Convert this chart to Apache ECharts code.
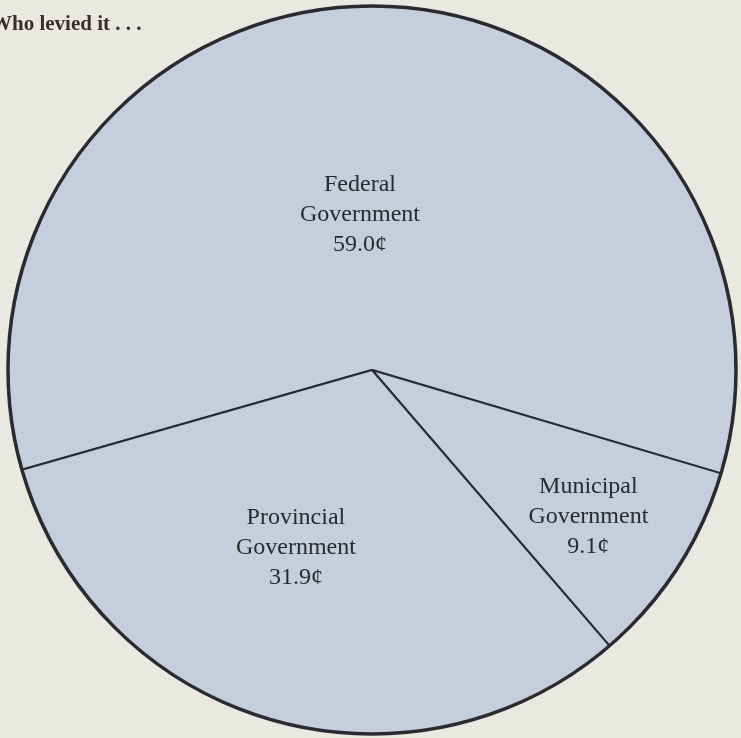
<!DOCTYPE html>
<html>
<head>
<meta charset="utf-8">
<script src="https://cdn.jsdelivr.net/npm/echarts@6/dist/echarts.min.js"></script>
<style>
  html, body { margin: 0; padding: 0; background: #e9e8e1; }
  #chart { width: 741px; height: 738px; }
</style>
</head>
<body>
<div id="chart"></div>
<script>
  // who levied the tax dollar (cents)
  var names = ['Federal\nGovernment', 'Municipal\nGovernment', 'Provincial\nGovernment'];
  var cents = [59.0, 9.1, 31.9];

  var lineColor = '#2b2a31';
  var fillColor = '#c4cedd';
  // nudge labels off the default mid-radius spot
  var labelNudge = [[-13, 30], [61, 46], [-23, 0]];

  var myChart = echarts.init(document.getElementById('chart'));
  var pieData = names.map(function (n, i) {
    return { name: n, value: cents[i] };
  });

  var option = {
    backgroundColor: '#e9e8e1',
    title: {
      text: 'Who levied it . . .',
      left: -14,
      top: 9,
      textStyle: {
        fontFamily: 'Liberation Serif',
        fontWeight: 'bold',
        fontSize: 21,
        color: '#35302f'
      }
    },
    series: [
      {
        type: 'pie',
        center: [372, 370],
        radius: [0, 364],
        startAngle: 195.9,
        clockwise: true,
        silent: true,
        itemStyle: {
          color: fillColor,
          borderColor: lineColor,
          borderWidth: 2
        },
        label: {
          show: true,
          position: 'inside',
          formatter: function (p) {
            return p.name + '\n' + p.value.toFixed(1) + '¢';
          },
          fontFamily: 'Liberation Serif',
          fontSize: 24,
          lineHeight: 30,
          color: '#2a2a2c',
          align: 'center'
        },
        labelLine: { show: false },
        labelLayout: function (p) {
          var d = labelNudge[p.dataIndex];
          return { dx: d[0], dy: d[1] };
        },
        data: pieData
      },
      {
        // heavier outer rim
        type: 'pie',
        center: [372, 370],
        radius: [0, 364],
        silent: true,
        itemStyle: {
          color: 'none',
          borderColor: lineColor,
          borderWidth: 3.5
        },
        label: { show: false },
        labelLine: { show: false },
        data: [{ name: 'total', value: cents.reduce(function (a, b) { return a + b; }, 0) }]
      }
    ]
  };
  myChart.setOption(option);
</script>
</body>
</html>
